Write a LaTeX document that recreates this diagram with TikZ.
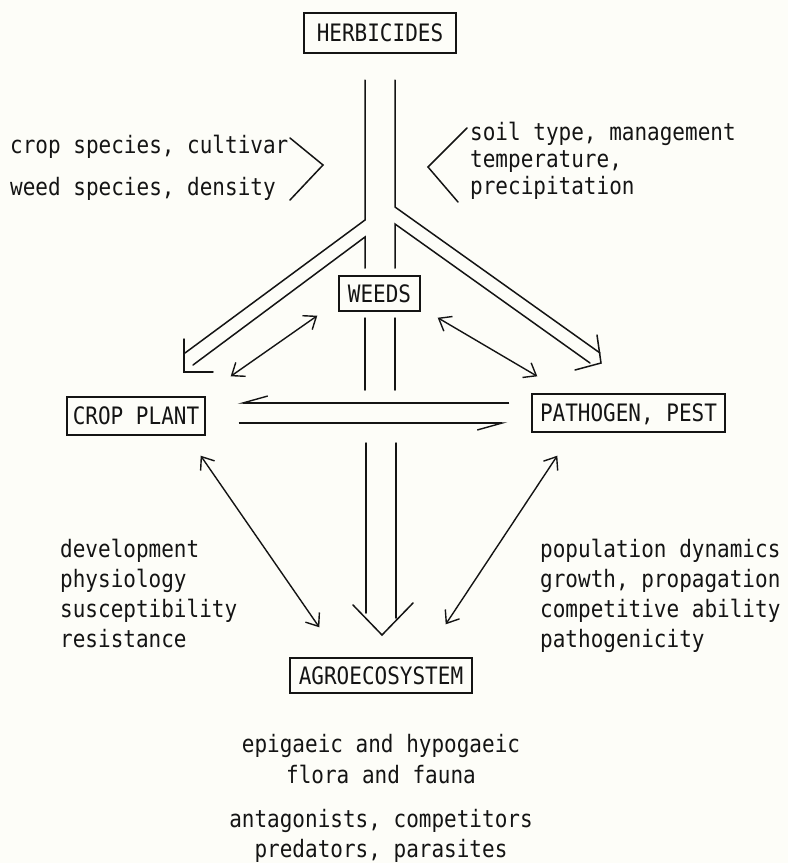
\documentclass[tikz,border=0pt]{standalone}
\usepackage{fontspec}
\newfontfamily\plotfont{DejaVu Sans Mono}[FakeStretch=0.875]
\usetikzlibrary{arrows.meta,calc}
\definecolor{paper}{RGB}{253,253,248}
\definecolor{ink}{RGB}{20,20,20}

\begin{document}
\begin{tikzpicture}[x=1pt,y=-1pt,
  every node/.style={font=\plotfont\fontsize{24}{30}\selectfont, inner sep=0pt, text=ink},
  box/.style={draw=ink, line width=1.4pt, text height=17.5pt, text depth=0pt},
  lbl/.style={anchor=base west},
  ctr/.style={anchor=base},
  pipe/.style={draw=ink, line width=1.5pt, line cap=round, line join=miter},
  link/.style={draw=ink, line width=1.4pt,
    {Straight Barb[length=11pt,width=17pt]}-{Straight Barb[length=11pt,width=17pt]}},
  half/.style={draw=ink, line width=1.4pt, -{Straight Barb[harpoon,swap,length=25pt,width=14pt]}}
]
\useasboundingbox (0,0) rectangle (788,863);
\fill[paper] (0,0) rectangle (788,863);

% boxed nodes
\node[box, minimum width=152pt, minimum height=40pt] (herb) at (380,33) {HERBICIDES};
\node[box, minimum width=81pt, minimum height=35pt] (weeds) at (379.5,293.5) {WEEDS};
\node[box, minimum width=138pt, minimum height=38pt] (crop) at (136,416) {CROP PLANT};
\node[box, minimum width=193pt, minimum height=38pt] (pest) at (628.5,413) {PATHOGEN, PEST};
\node[box, minimum width=182pt, minimum height=35pt] (agro) at (381,675.5) {AGROECOSYSTEM};

% double-line flow from the herbicides box
\draw[pipe] (365,80) -- (365,220) -- (185,353);
\draw[pipe] (395,80) -- (395,207) -- (600,353);
\draw[pipe] (365,268) -- (365,237) -- (193,365);
\draw[pipe] (395,268) -- (395,224) -- (590,363);
\draw[pipe] (184,339) -- (184,372) -- (213,372);
\draw[pipe] (597,335) -- (601,363) -- (575,370);
\draw[pipe] (365,318) -- (365,390);
\draw[pipe] (395,318) -- (395,390);
\draw[pipe] (366,443) -- (366,613);
\draw[pipe] (396,443) -- (396,618);
\draw[pipe] (353,605) -- (382,635) -- (413,603);

% brackets grouping the influencing factors
\draw[pipe] (290,138) -- (323,165) -- (290,200);
\draw[pipe] (467,128) -- (428,167) -- (458,202);

% crop plant <-> pathogen
\draw[half] ($(pest.west)+(-22,-10)$) -- ($(crop.east)+(32,-13)$);
\draw[half] ($(crop.east)+(33,7)$) -- ($(pest.west)+(-24,10)$);

% mutual interactions
\draw[link] ($(crop.north east)+(25,-20)$) -- ($(weeds.south west)+(-21,4)$);
\draw[link] ($(weeds.south east)+(17,6)$) -- ($(pest.north west)+(6,-17)$);
\draw[link] ($(crop.south east)+(-5,20)$) -- ($(agro.north west)+(30,-30)$);
\draw[link] ($(pest.south west)+(26,23)$) -- ($(agro.north east)+(-27,-33)$);

% factor lists
\node[lbl] (f1) at (10,153) {crop species, cultivar};
\node[lbl] (f2) at (10,195) {weed species, density};
\node[lbl] (f3) at (470,140) {soil type, management};
\node[lbl] (f4) at (470,167) {temperature,};
\node[lbl] (f5) at (470,194) {precipitation};

\node[lbl] (c1) at (60,557) {development};
\node[lbl] (c2) at (60,587) {physiology};
\node[lbl] (c3) at (60,617) {susceptibility};
\node[lbl] (c4) at (60,647) {resistance};

\node[lbl] (p1) at (540,557) {population dynamics};
\node[lbl] (p2) at (540,587) {growth, propagation};
\node[lbl] (p3) at (540,617) {competitive ability};
\node[lbl] (p4) at (540,647) {pathogenicity};

\node[ctr] (a1) at (381,752) {epigaeic and hypogaeic};
\node[ctr] (a2) at (381,783) {flora and fauna};
\node[ctr] (a3) at (381,827) {antagonists, competitors};
\node[ctr] (a4) at (381,857) {predators, parasites};
\end{tikzpicture}
\end{document}
